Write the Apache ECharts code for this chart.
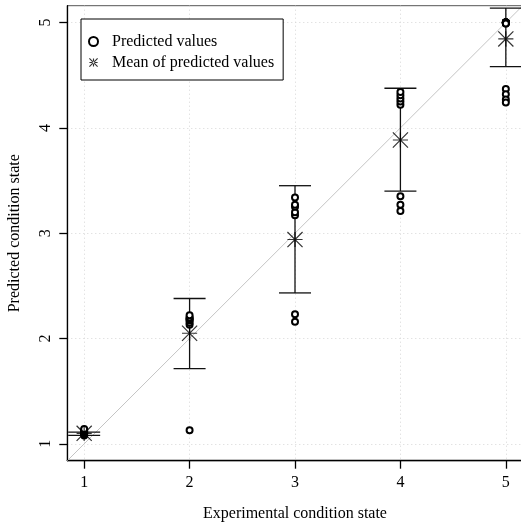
<!DOCTYPE html>
<html>
<head>
<meta charset="utf-8">
<script src="https://cdn.jsdelivr.net/npm/echarts@6/dist/echarts.min.js"></script>
<style>html,body{margin:0;padding:0;background:#fff}#c{width:521px;height:523px}</style>
</head>
<body>
<div id="c"></div>
<script>
// ---- data ----
var categories = [1, 2, 3, 4, 5];
var predicted1 = [1.08, 1.09, 1.10, 1.10, 1.11, 1.12, 1.13, 1.14];
var predicted2 = [2.13, 2.15, 2.17, 2.18, 2.19, 2.20, 2.22, 1.13];
var predicted3 = [3.17, 3.20, 3.25, 3.27, 3.34, 2.23, 2.16];
var predicted4 = [4.22, 4.25, 4.28, 4.31, 4.34, 3.35, 3.27, 3.21];
var predicted5 = [5.00, 5.00, 5.00, 5.00, 5.00, 5.00, 5.00, 5.00, 5.00, 5.00, 4.99, 4.99, 4.37, 4.32, 4.27, 4.24];
var meanValues = [1.10, 2.05, 2.94, 3.885, 4.845];
var lowerValues = [1.081, 1.715, 2.433, 3.40, 4.582];
var upperValues = [1.112, 2.38, 3.451, 4.376, 5.137];
var tickValues = [1, 2, 3, 4, 5];
var axisRange = [0.84, 5.16];

var predictedByCat = [predicted1, predicted2, predicted3, predicted4, predicted5];
var pointData = [];
categories.forEach(function (c, i) {
  predictedByCat[i].forEach(function (v) { pointData.push([c, v]); });
});
var meanData = categories.map(function (c, i) { return [c, meanValues[i]]; });
var barData = categories.map(function (c, i) { return [c, lowerValues[i], upperValues[i]]; });

var STAR = 'path://M0 9.2H20V10.8H0Z M10.8 0V20H9.2V0Z M0.57 -0.57L20.57 19.43L19.43 20.57L-0.57 0.57Z M20.57 0.57L0.57 20.57L-0.57 19.43L19.43 -0.57Z';
var STAR_ICON = 'path://M0 8.6V11.4H20V8.6Z M8.6 0V20H11.4V0Z M1 -1L21 19L19 21L-1 1Z M21 1L1 21L-1 19L19 -1Z';

var font = 'Liberation Serif';
var FS = 16;
var chart = echarts.init(document.getElementById('c'), null, {renderer: 'canvas'});
chart.setOption({
  animation: false,
  backgroundColor: '#fff',
  textStyle: {fontFamily: font},
  grid: {left: 67.3, top: 5.7, width: 455.4, height: 455, containLabel: false, outerBoundsMode: 'none',
         show: true, borderColor: '#555', borderWidth: 1, backgroundColor: 'transparent'},
  legend: {
    left: 81, top: 19,
    orient: 'vertical',
    backgroundColor: '#fff',
    borderColor: '#000', borderWidth: 1,
    padding: [12, 9, 7, 7],
    itemWidth: 9, itemHeight: 9, itemGap: 0,
    textStyle: {fontFamily: font, fontSize: FS, color: '#000', lineHeight: 21, padding: [0, 0, 0, 9]},
    data: [
      {name: 'Predicted values', icon: 'emptyCircle', itemStyle: {color: '#000', borderColor: '#000', borderWidth: 1}},
      {name: 'Mean of predicted values', icon: STAR_ICON, itemStyle: {color: '#000', borderWidth: 0}}
    ]
  },
  xAxis: {
    type: 'value', min: axisRange[0], max: axisRange[1],
    name: 'Experimental condition state', nameLocation: 'middle', nameGap: 45,
    nameTextStyle: {fontFamily: font, fontSize: FS, color: '#000'},
    axisLine: {show: true, onZero: false, lineStyle: {color: '#000', width: 1.3}},
    axisTick: {show: true, inside: false, length: 8, customValues: tickValues, lineStyle: {color: '#000', width: 1.3}},
    axisLabel: {customValues: tickValues, margin: 14, fontFamily: font, fontSize: FS, color: '#000'},
    splitLine: {show: true, lineStyle: {color: '#d6d6d6', type: [1, 3], width: 1}}
  },
  yAxis: {
    type: 'value', min: axisRange[0], max: axisRange[1],
    name: 'Predicted condition state', nameLocation: 'middle', nameGap: 45,
    nameTextStyle: {fontFamily: font, fontSize: FS, color: '#000'},
    axisLine: {show: true, onZero: false, lineStyle: {color: '#000', width: 1.3}},
    axisTick: {show: true, inside: false, length: 8, customValues: tickValues, lineStyle: {color: '#000', width: 1.3}},
    axisLabel: {customValues: tickValues, rotate: 90, margin: 14, fontFamily: font, fontSize: FS, color: '#000'},
    splitLine: {show: true, lineStyle: {color: '#d6d6d6', type: [1, 3], width: 1}}
  },
  series: [
    {
      name: 'diag', type: 'line', silent: true, symbol: 'none',
      data: [[axisRange[0], axisRange[0]], [axisRange[1], axisRange[1]]],
      lineStyle: {color: '#c4c4c4', width: 1}, z: 1
    },
    {
      name: 'errorbars', type: 'custom', silent: true, z: 2,
      data: barData,
      renderItem: function (params, api) {
        var x = api.value(0);
        var lo = api.coord([x, api.value(1)]);
        var hi = api.coord([x, api.value(2)]);
        var w = 16;
        var st = {stroke: '#111', lineWidth: 1.3};
        return {type: 'group', children: [
          {type: 'line', shape: {x1: lo[0], y1: lo[1], x2: hi[0], y2: hi[1]}, style: st},
          {type: 'line', shape: {x1: lo[0] - w, y1: lo[1], x2: lo[0] + w, y2: lo[1]}, style: st},
          {type: 'line', shape: {x1: hi[0] - w, y1: hi[1], x2: hi[0] + w, y2: hi[1]}, style: st}
        ]};
      }
    },
    {
      name: 'Predicted values', type: 'scatter', z: 3,
      symbol: 'emptyCircle', symbolSize: 6,
      itemStyle: {color: '#000', borderColor: '#000', borderWidth: 1.3, opacity: 1},
      data: pointData
    },
    {
      name: 'Mean of predicted values', type: 'scatter', z: 4,
      symbol: STAR, symbolSize: 16,
      itemStyle: {color: '#000', borderWidth: 0},
      data: meanData
    }
  ]
});
</script>
</body>
</html>
